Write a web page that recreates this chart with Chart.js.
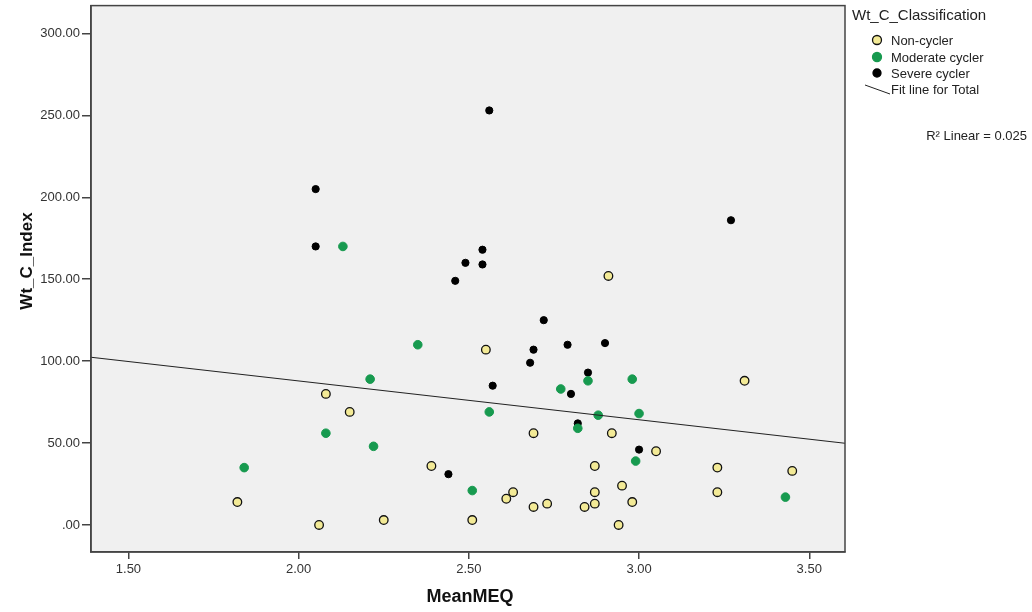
<!DOCTYPE html>
<html>
<head>
<meta charset="utf-8">
<script src="https://cdn.jsdelivr.net/npm/chart.js@4.4.1/dist/chart.umd.min.js"></script>
<style>
  html, body { margin: 0; padding: 0; background: #fff; }
  #wrap { width: 1032px; height: 612px; }
</style>
</head>
<body>
<div id="wrap"><canvas id="myChart" width="1032" height="612"></canvas></div>
<script>
// values (MeanMEQ, Wt_C_Index)
var nonX = [2.08, 2.15, 1.82, 2.06, 2.25, 2.91, 2.55, 2.69, 2.92, 3.05, 2.39, 2.87, 2.95, 2.63,
            2.87, 2.61, 2.73, 2.87, 2.98, 2.69, 2.84, 2.51, 2.94, 3.31, 3.45, 3.23, 3.23];
var nonY = [80, 69, 14, 0, 3, 152, 107, 56, 56, 45, 36, 36, 24, 20,
            20, 16, 13, 13, 14, 11, 11, 3, 0, 88, 33, 35, 20];

var modX = [2.13, 2.35, 2.21, 2.08, 2.22, 1.84, 2.85, 2.98, 2.77, 2.56, 2.88, 3.00, 2.82, 2.99, 2.51, 3.43];
var modY = [170, 110, 89, 56, 48, 35, 88, 89, 83, 69, 67, 68, 59, 39, 21, 17];

var sevX = [2.05, 2.05, 2.56, 2.54, 2.49, 2.54, 2.46, 2.72, 2.69, 2.79, 2.90, 2.68, 2.85, 2.57, 2.80, 2.82, 3.00, 2.44, 3.27];
var sevY = [205, 170, 253, 168, 160, 159, 149, 125, 107, 110, 111, 99, 93, 85, 80, 62, 46, 31, 186];

var xTicks = [1.5, 2.0, 2.5, 3.0, 3.5];
var yTicks = [0, 50, 100, 150, 200, 250, 300];
var xMin = 1.39, xMax = 3.605;
var yMin = -16.5, yMax = 317;

// fit line for total
var fitIntercept = 135.3;
var fitSlope = -23.7;

function pts(xs, ys) {
  var out = [];
  for (var i = 0; i < xs.length; i++) out.push({x: xs[i], y: ys[i]});
  return out;
}

var fitLine = [
  {x: xMin, y: fitIntercept + fitSlope * xMin},
  {x: xMax, y: fitIntercept + fitSlope * xMax}
];

var yellow = "#f3ea96";
var green = "#179a4f";

var decor = {
  id: "decor",
  beforeDraw: function(chart) {
    var c = chart.ctx, a = chart.chartArea;
    c.save();
    c.fillStyle = "#f0f0f0";
    c.fillRect(a.left, a.top, a.right - a.left, a.bottom - a.top);
    c.restore();
  },
  afterDraw: function(chart) {
    var c = chart.ctx, a = chart.chartArea;
    c.save();
    c.strokeStyle = "#444";
    c.lineWidth = 1.5;
    c.strokeRect(a.left, a.top, a.right - a.left, a.bottom - a.top);

    // axis titles
    c.fillStyle = "#111";
    c.font = "bold 18px 'Liberation Sans', Arial, sans-serif";
    c.textAlign = "center";
    c.textBaseline = "middle";
    c.fillText("MeanMEQ", 470, 597);
    c.save();
    c.translate(27, 261);
    c.rotate(-Math.PI / 2);
    c.font = "bold 17px 'Liberation Sans', Arial, sans-serif";
    c.fillText("Wt_C_Index", 0, 0);
    c.restore();

    // legend
    c.textAlign = "left";
    c.fillStyle = "#222";
    c.font = "15px 'Liberation Sans', Arial, sans-serif";
    c.fillText("Wt_C_Classification", 852, 16);
    c.font = "13px 'Liberation Sans', Arial, sans-serif";
    var items = [
      {label: "Non-cycler", fill: yellow, stroke: "#111", r: 4.5, y: 40},
      {label: "Moderate cycler", fill: green, stroke: green, r: 4.5, y: 57},
      {label: "Severe cycler", fill: "#000", stroke: "#000", r: 4, y: 73}
    ];
    items.forEach(function(it) {
      c.beginPath();
      c.arc(877, it.y, it.r, 0, Math.PI * 2);
      c.fillStyle = it.fill;
      c.fill();
      c.lineWidth = 1.3;
      c.strokeStyle = it.stroke;
      c.stroke();
      c.fillStyle = "#222";
      c.fillText(it.label, 891, it.y + 1);
    });
    c.beginPath();
    c.moveTo(865, 85);
    c.lineTo(890, 94);
    c.strokeStyle = "#222";
    c.lineWidth = 1;
    c.stroke();
    c.fillText("Fit line for Total", 891, 90);
    c.textAlign = "right";
    c.fillText("R\u00b2 Linear = 0.025", 1027, 136);
    c.restore();
  }
};

var ctx = document.getElementById("myChart").getContext("2d");

new Chart(ctx, {
  type: "scatter",
  data: {
    datasets: [
      {
        label: "Fit line for Total",
        type: "line",
        data: fitLine,
        borderColor: "#222",
        borderWidth: 1.2,
        pointRadius: 0,
        fill: false
      },
      {
        label: "Non-cycler",
        data: pts(nonX, nonY),
        backgroundColor: yellow,
        borderColor: "#111",
        borderWidth: 1.3,
        pointRadius: 4.3
      },
      {
        label: "Moderate cycler",
        data: pts(modX, modY),
        backgroundColor: green,
        borderColor: green,
        borderWidth: 1,
        pointRadius: 4.3
      },
      {
        label: "Severe cycler",
        data: pts(sevX, sevY),
        backgroundColor: "#000",
        borderColor: "#000",
        borderWidth: 1,
        pointRadius: 3.6
      }
    ]
  },
  options: {
    responsive: false,
    animation: false,
    devicePixelRatio: 1,
    layout: { padding: { top: 5, right: 187, left: 0, bottom: 0 } },
    plugins: {
      legend: { display: false },
      tooltip: { enabled: false },
      title: { display: false }
    },
    scales: {
      x: {
        type: "linear",
        min: xMin,
        max: xMax,
        afterBuildTicks: function(s) { s.ticks = xTicks.map(function(v) { return {value: v}; }); },
        afterFit: function(s) { s.height = 60; s.paddingLeft = 0; s.paddingRight = 0; },
        grid: { drawOnChartArea: false, drawTicks: true, tickLength: 7, color: "#444", lineWidth: 1.5 },
        border: { display: true, color: "#444", width: 1.5 },
        ticks: {
          padding: 3,
          color: "#333",
          font: { size: 13, family: "'Liberation Sans', Arial, sans-serif" },
          callback: function(v) { return v.toFixed(2); }
        }
      },
      y: {
        type: "linear",
        min: yMin,
        max: yMax,
        afterBuildTicks: function(s) { s.ticks = yTicks.map(function(v) { return {value: v}; }); },
        afterFit: function(s) { s.width = 91; s.paddingTop = 0; s.paddingBottom = 0; },
        grid: { drawOnChartArea: false, drawTicks: true, tickLength: 9, color: "#444", lineWidth: 1.5 },
        border: { display: true, color: "#444", width: 1.5 },
        ticks: {
          padding: 2,
          color: "#333",
          font: { size: 13, family: "'Liberation Sans', Arial, sans-serif" },
          callback: function(v) { return v === 0 ? ".00" : v.toFixed(2); }
        }
      }
    }
  },
  plugins: [decor]
});
</script>
</body>
</html>
